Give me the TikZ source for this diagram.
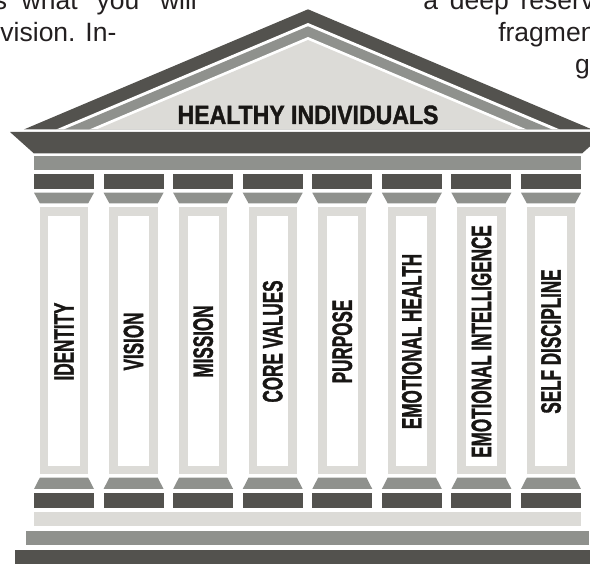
\documentclass[tikz,border=0pt]{standalone}
\usepackage{fontspec}
\setmainfont{Liberation Sans}
\newfontfamily\heavyfam[FakeBold=1.6]{Liberation Sans}
\usepackage{graphicx}
\definecolor{stoneDark}{RGB}{83,82,78}
\definecolor{stoneMid}{RGB}{143,145,141}
\definecolor{stoneLight}{RGB}{220,219,215}
\definecolor{ink}{RGB}{24,22,20}
\definecolor{bodyink}{RGB}{35,31,32}
\newcommand{\pillarfont}{\heavyfam\fontsize{28}{28}\selectfont\bfseries}
\newcommand{\titlefont}{\heavyfam\fontsize{26.5}{26.5}\selectfont\bfseries}

\begin{document}
\begin{tikzpicture}[x=1pt,y=-1pt,
  darkpart/.style={fill=stoneDark},
  midpart/.style={fill=stoneMid},
  lightpart/.style={fill=stoneLight},
  gap/.style={fill=white},
  pillarlabel/.style={inner sep=0pt, outer sep=0pt, text=ink, rotate=90},
  titlelabel/.style={inner sep=0pt, outer sep=0pt, text=ink, anchor=base},
  bodytext/.style={inner sep=0pt, outer sep=0pt, text=bodyink,
    font=\fontsize{26.5}{32}\selectfont, anchor=base west}]
\useasboundingbox (0,0) rectangle (590,564);
\clip (0,0) rectangle (590,564);

% surrounding running text (justified lines)
\node[bodytext] (l1a) at (-6,10) {s};
\node[bodytext] (l1b) at (21.7,10) {what};
\node[bodytext] (l1c) at (96.7,10) {you};
\node[bodytext] (l1d) at (160,10) {will};
\node[bodytext] (l2) at (0.5,42) {vision. In-};
\node[bodytext] (r1) at (423.3,10) {\makebox[171pt][s]{a deep reserv}};
\node[bodytext] (r2) at (498.3,42) {fragmen};
\node[bodytext] (r3) at (575,74) {g};

% pediment: nested triangles of equal slope
\fill[darkpart]  (308,9.3)  -- (592.2,129.5) -- (23.8,129.5) -- cycle;
\fill[gap]       (308,23)   -- (559.8,129.5) -- (56.2,129.5) -- cycle;
\fill[midpart]   (308,26.3) -- (552,129.5)   -- (64,129.5)   -- cycle;
\fill[gap]       (308,37)   -- (526.7,129.5) -- (89.3,129.5) -- cycle;
\fill[lightpart] (308,40)   -- (519.6,129.5) -- (96.4,129.5) -- cycle;
\node[titlelabel] (title) at (308,124)
  {\scalebox{0.87}[1]{\titlefont HEALTHY INDIVIDUALS}};

% cornice and architrave
\fill[darkpart] (10,132) -- (606,132) -- (582,153.5) -- (34,153.5) -- cycle;
\fill[midpart] (34,156.5) rectangle (581,170.5);

% pillars
\foreach \i/\txt in {0/IDENTITY, 1/VISION, 2/MISSION, 3/CORE VALUES,
                     4/PURPOSE, 5/EMOTIONAL HEALTH,
                     6/EMOTIONAL INTELLIGENCE, 7/SELF DISCIPLINE}{
  \pgfmathsetmacro\xl{34+69.57*\i}
  % capital
  \fill[darkpart] (\xl,174) rectangle ({\xl+60},188.7);
  \fill[midpart] (\xl,192.7) -- ({\xl+60},192.7) -- ({\xl+54.2},203.3)
                 -- ({\xl+5.8},203.3) -- cycle;
  % shaft
  \fill[lightpart] ({\xl+5.8},207.3) rectangle ({\xl+54.2},474);
  \fill[gap] ({\xl+14.4},215.7) rectangle ({\xl+45.6},465.7);
  % base
  \fill[midpart] ({\xl+5.8},477.7) -- ({\xl+54.2},477.7) -- ({\xl+60},489)
                 -- (\xl,489) -- cycle;
  \fill[darkpart] (\xl,492.7) rectangle ({\xl+60},507.7);
  \node[pillarlabel] (pillar\i) at ({\xl+30},341.5)
    {\scalebox{0.61}[1]{\pillarfont \txt}};
}

% steps
\fill[lightpart] (34,511.7) rectangle (581,525.7);
\fill[midpart] (26,530.7) rectangle (589,545.3);
\fill[darkpart] (15,550) rectangle (600,570);
\end{tikzpicture}
\end{document}
